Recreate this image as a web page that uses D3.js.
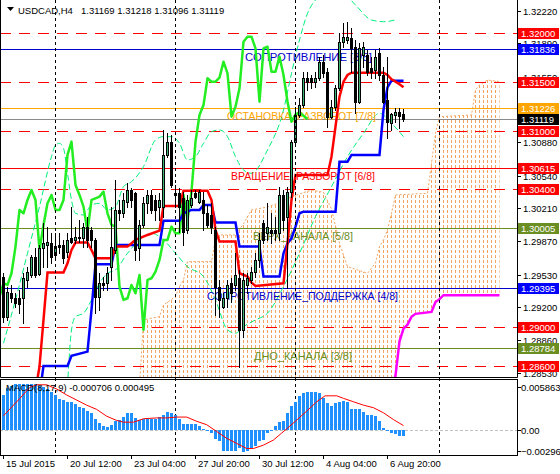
<!DOCTYPE html>
<html><head><meta charset="utf-8">
<script src="https://cdn.jsdelivr.net/npm/d3@7"></script>
<style>body{margin:0;background:#fff}svg{display:block}text{font-family:"Liberation Sans",Arial,sans-serif}</style>
</head><body><svg id="c" width="560" height="474"></svg>
<script>
// ---------------- data ----------------
const symbolName = "USDCAD,H4";
const lastOHLC = [1.31169, 1.31218, 1.31096, 1.31119];
const macdTitle = "MACD(8,17,9) -0.000706 0.000495";
const openP = [1.29510,1.29102,1.29347,1.29296,1.29289,1.29289,1.29476,1.29527,1.29714,1.29537,1.29799,1.29833,1.29850,1.29731,1.29833,1.29833,1.29765,1.29901,1.29884,1.29901,1.29901,1.30020,1.29986,1.29884,1.29306,1.29442,1.29442,1.29612,1.29782,1.30190,1.30156,1.30275,1.30394,1.30360,1.29799,1.30037,1.30258,1.30343,1.30292,1.30224,1.30224,1.30751,1.30887,1.30360,1.30360,1.30309,1.29986,1.30241,1.30360,1.30275,1.30292,1.30156,1.30139,1.29986,1.29408,1.29204,1.29289,1.29442,1.29425,1.29493,1.28966,1.29425,1.29476,1.29561,1.29680,1.30054,1.29952,1.29986,1.29986,1.29952,1.30343,1.30122,1.30377,1.30887,1.31159,1.31261,1.31533,1.31533,1.31499,1.31533,1.31703,1.31601,1.31142,1.31244,1.31431,1.31907,1.31924,1.31941,1.31856,1.31295,1.31771,1.31771,1.31635,1.31618,1.31788,1.31567,1.31312,1.31081,1.31159,1.31186,1.31169];
const highP = [1.29544,1.29408,1.29425,1.29340,1.29374,1.29544,1.29612,1.29731,1.29799,1.29833,1.30054,1.30020,1.29952,1.29952,1.29952,1.29884,1.29952,1.30224,1.30020,1.30088,1.30054,1.30122,1.30020,1.29901,1.29544,1.29510,1.29612,1.30224,1.30496,1.30292,1.30360,1.30462,1.30411,1.30377,1.30088,1.30326,1.30394,1.30394,1.30343,1.30360,1.31006,1.30972,1.30955,1.30445,1.30411,1.30377,1.30343,1.30394,1.30394,1.30394,1.30377,1.30241,1.30258,1.30020,1.29476,1.29340,1.29476,1.29493,1.29748,1.29578,1.29544,1.29544,1.29612,1.29748,1.29952,1.30088,1.30258,1.30156,1.30122,1.30428,1.30394,1.30428,1.30904,1.31244,1.31329,1.31601,1.31601,1.31567,1.31601,1.31754,1.31771,1.31635,1.31312,1.31465,1.31992,1.32094,1.32111,1.32043,1.31924,1.31890,1.31907,1.31822,1.31754,1.31822,1.31839,1.31652,1.31754,1.31176,1.31227,1.31227,1.31218];
const lowP = [1.29051,1.29068,1.29255,1.29204,1.29136,1.29034,1.29408,1.29510,1.29510,1.29527,1.29612,1.29612,1.29646,1.29680,1.29748,1.29646,1.29714,1.29850,1.29850,1.29867,1.29816,1.29816,1.29816,1.29136,1.29170,1.29374,1.29374,1.29476,1.29748,1.30088,1.30122,1.30224,1.30224,1.29680,1.29680,1.30020,1.30156,1.30156,1.30088,1.30088,1.30122,1.30734,1.30428,1.30224,1.29969,1.29833,1.29952,1.30224,1.30309,1.30258,1.29986,1.30020,1.29952,1.29119,1.29102,1.29187,1.29204,1.29255,1.29374,1.28592,1.28898,1.29340,1.29442,1.29510,1.29612,1.29850,1.29884,1.29850,1.29884,1.29884,1.29986,1.29391,1.30326,1.30870,1.31142,1.31244,1.31414,1.31431,1.31448,1.31516,1.31550,1.31040,1.31125,1.31210,1.31414,1.31856,1.31890,1.31601,1.31176,1.31278,1.31652,1.31567,1.31533,1.31533,1.31516,1.31278,1.30921,1.31006,1.31091,1.31023,1.31096];
const closeP = [1.29102,1.29357,1.29289,1.29238,1.29231,1.29493,1.29561,1.29714,1.29527,1.29799,1.29850,1.29867,1.29714,1.29823,1.29816,1.29697,1.29884,1.29867,1.29918,1.29918,1.30020,1.29884,1.29884,1.29306,1.29442,1.29425,1.29544,1.29816,1.30190,1.30156,1.30292,1.30394,1.30292,1.29782,1.30037,1.30258,1.30343,1.30190,1.30190,1.30292,1.30751,1.30887,1.30445,1.30343,1.30224,1.29969,1.30292,1.30309,1.30326,1.30377,1.30156,1.30037,1.30020,1.29408,1.29272,1.29289,1.29425,1.29340,1.29527,1.28966,1.29476,1.29493,1.29561,1.29680,1.29884,1.29884,1.30020,1.29952,1.29952,1.30343,1.30088,1.30377,1.30887,1.31159,1.31261,1.31533,1.31499,1.31499,1.31540,1.31703,1.31584,1.31142,1.31244,1.31431,1.31907,1.31958,1.31958,1.31839,1.31295,1.31839,1.31856,1.31601,1.31601,1.31754,1.31567,1.31295,1.31091,1.31166,1.31186,1.31152,1.31119];
const macdMain = [0.00412,0.00491,0.00518,0.00537,0.00542,0.00542,0.00542,0.00537,0.00535,0.00518,0.00501,0.00475,0.0045,0.00412,0.00361,0.00348,0.00331,0.00323,0.00306,0.00272,0.00255,0.00221,0.00195,0.00127,0.00076,0.00042,0.00034,0.00051,0.00102,0.00119,0.00153,0.00195,0.00195,0.00136,0.00119,0.00127,0.00127,0.00127,0.00127,0.00153,0.00178,0.00204,0.00195,0.00178,0.00127,0.00068,0.00068,0.00068,0.00068,0.00042,0.00008,-0.00008,-0.00042,-0.0011,-0.00136,-0.00246,-0.00246,-0.00246,-0.00246,-0.00212,-0.00263,-0.00246,-0.00212,-0.00187,-0.00136,-0.00119,-0.00034,0.0,0.00042,0.00093,0.00102,0.00195,0.0028,0.00331,0.00399,0.00433,0.00441,0.00441,0.00441,0.00433,0.00374,0.00314,0.0028,0.00314,0.00331,0.0034,0.00331,0.00246,0.00246,0.00246,0.00212,0.0017,0.0017,0.00161,0.00102,0.00017,-0.00008,-0.00034,-0.00051,-0.00068,-0.000706];
const macdSignal = [[0,0.00165],[1.8,0.00255],[4.1,0.0037],[6.6,0.0050],[8.3,0.0053],[10.8,0.0053],[13.3,0.0048],[15.8,0.0041],[18.3,0.0035],[20.8,0.0029],[23.3,0.0024],[25.8,0.0016],[28.3,0.0011],[30,0.0009],[32.5,0.0009],[35,0.0013],[38.3,0.0014],[40.8,0.0014],[43.3,0.0015],[45.8,0.0015],[48.3,0.0010],[50.8,0.0006],[53.3,-0.0002],[55.8,-0.0010],[58.3,-0.0016],[60.8,-0.0022],[62.5,-0.0022],[65,-0.0018],[67.5,-0.0012],[69.5,-0.0004],[71,0.0002],[72.9,0.00098],[75.8,0.0022],[78.3,0.0033],[80.4,0.0040],[83.3,0.0040],[85,0.0037],[87.5,0.0033],[90,0.0029],[92.5,0.0026],[95,0.0020],[97.5,0.0012],[100,0.000495]];
const tenkan = [[8,1.2835],[9,1.28592],[10,1.29068],[11,1.29551],[15,1.29551],[16,1.29646],[17,1.29782],[18,1.29857],[21,1.29857],[22,1.29782],[23,1.29697],[27,1.29697],[28,1.29816],[31,1.29816],[33,1.29884],[36,1.29935],[39,1.29979],[40,1.30231],[44,1.30231],[45,1.30387],[51,1.30387],[52,1.30292],[53,1.29986],[54,1.29867],[58,1.29867],[59,1.29544],[61,1.29510],[62,1.29449],[63,1.29415],[70,1.29442],[71,1.29850],[72,1.30292],[73,1.30547],[81,1.30547],[82,1.30734],[83,1.31040],[84,1.31346],[85,1.31499],[86,1.31567],[87,1.31591],[95,1.31591],[96,1.31567],[97,1.31523],[98,1.31499],[99,1.31472],[100,1.31441]];
const kijun = [[9,1.2830],[10,1.28599],[16,1.28599],[17,1.28701],[21,1.28745],[22,1.29170],[23,1.29636],[27,1.29636],[28,1.29833],[39,1.29833],[40,1.30081],[44,1.30081],[45,1.30156],[47,1.30190],[49,1.30190],[50,1.30241],[52,1.30241],[53,1.30061],[58,1.30061],[59,1.29816],[64,1.29816],[65,1.29510],[69,1.29510],[70,1.29748],[71,1.29850],[72,1.29901],[73,1.30020],[74,1.30156],[75,1.30173],[83,1.30173],[84,1.30683],[86,1.30683],[87,1.30751],[94,1.30751],[95,1.31210],[96,1.31441],[97,1.31509],[100,1.31509]];
const senkouA = [[34,1.2840],[35,1.29068],[39,1.29102],[40,1.29221],[43,1.29306],[44,1.29408],[45,1.29476],[46,1.29663],[52,1.29663],[53,1.29884],[54,1.29935],[58,1.29935],[60,1.3005],[62,1.30190],[66,1.3022],[70,1.3028],[72,1.30326],[77,1.30394],[80,1.3037],[82,1.3020],[84,1.2985],[86,1.29612],[91,1.29544],[93,1.2965],[94,1.29816],[95,1.29884],[96,1.29986],[97,1.30156],[98,1.30343],[106,1.30360],[107,1.30666],[108,1.30972],[109,1.31142],[117,1.31159],[118,1.31414],[119,1.31465],[121,1.31516],[124,1.31499]];
const senkouB = [[34,1.2800],[96,1.2800],[97,1.2830],[98,1.2850],[99,1.2885],[100,1.2898],[101,1.2902],[102,1.2910],[103,1.2913],[107,1.2915],[108,1.2925],[109,1.2928],[110,1.2932],[124,1.2932]];
const chikouShift = 24;
const bandUpper = [[0,1.28830],[3,1.29272],[6,1.29748],[9,1.30224],[12,1.30734],[13,1.30853],[14,1.30870],[15,1.30819],[16,1.30564],[17,1.30292],[18,1.30156],[20,1.30139],[22,1.30241],[24,1.30258],[26,1.30190],[28,1.30224],[30,1.30428],[32,1.30479],[35,1.30632],[38,1.30904],[40,1.30938],[42,1.30938],[44,1.30870],[46,1.30700],[48,1.30734],[50,1.30870],[52,1.30989],[54,1.31006],[56,1.30938],[58,1.30734],[60,1.30598],[62,1.30564],[66,1.30802],[70,1.31210],[72,1.31584],[74,1.31924],[76,1.32196],[78,1.32332],[80,1.32400],[84,1.32434],[88,1.32281],[92,1.32128],[95,1.32111],[98,1.32128]];
const bandLower = [[16,1.28388],[17,1.28966],[18,1.29102],[20,1.29136],[22,1.29272],[24,1.29442],[26,1.29544],[28,1.29578],[31,1.29748],[34,1.29884],[37,1.29952],[40,1.29884],[43,1.29748],[46,1.29612],[50,1.29510],[53,1.29272],[56,1.28966],[58,1.28932],[60,1.29000],[63,1.29068],[66,1.29136],[70,1.29408],[74,1.29748],[78,1.30122],[82,1.30428],[86,1.30734],[90,1.30972],[94,1.31176],[97,1.31074],[100,1.30938]];
const levelValues = [1.32000,1.31836,1.31500,1.31226,1.31119,1.31000,1.30615,1.30400,1.30005,1.29395,1.29000,1.28784,1.28600];
const levelKind   = ["mm","r8","mm","r7","bid","mm","r6","mm","r5","r4","mm","r3","mm"];
const levelNames  = {r8:"СОПРОТИВЛЕНИЕ [8/8]",r7:"ОСТАНОВКА_РАЗВОРОТ [7/8]",r6:"ВРАЩЕНИЕ_РАЗВОРОТ [6/8]",r5:"ВЕРХ_КАНАЛА [5/8]",r4:"СОПРОТИВЛЕНИЕ_ПОДДЕРЖКА [4/8]",r3:"ДНО_КАНАЛА [3/8]"};
const priceTicks = [1.32220,1.31890,1.31550,1.31220,1.30880,1.30540,1.30210,1.29870,1.29530,1.29200,1.28860,1.28530];
const macdTicks = [0.005863,0,-0.002966];
const timeBars = [0,16,32,48,64,80,96];
const timeText = ["15 Jul 2015","20 Jul 12:00","23 Jul 04:00","27 Jul 20:00","30 Jul 12:00","4 Aug 04:00","6 Aug 20:00"];
const separatorBars = [13,43,73,109];

// ---------------- styles ----------------
const RIGHT = 517, MAIN_B = 377, SUB_T = 379, SUB_B = 455;
const kindStyle = {
  mm:{c:"#ff0000",dash:"11,8"}, r8:{c:"#0000cd",box:"#0000ff"}, r7:{c:"#ffa500"}, bid:{c:"#8a8a8a",box:"#000000"},
  r6:{c:"#ff0000"}, r5:{c:"#6b8e23"}, r4:{c:"#0000cd",box:"#0000ff"}, r3:{c:"#6b8e23"}
};
const textPos = {r8:[245,127],r7:[227,149],r6:[231,144],r5:[253,100],r4:[207,191],r3:[254,98]};

const svg = d3.select("#c");
const x = d3.scaleLinear().domain([0,100]).range([3.5,403.5]);
const y = d3.scaleLinear().domain([1.28530,1.32220]).range([372.66,11]);
const ym = d3.scaleLinear().domain([-0.002966,0.005863]).range([455,380]);
const cy = v => Math.round(y(v)) + 0.5;

const defs = svg.append("defs");
defs.append("clipPath").attr("id","mainClip").append("rect").attr("x",1).attr("y",0).attr("width",RIGHT-1).attr("height",MAIN_B);
defs.append("clipPath").attr("id","subClip").append("rect").attr("x",1).attr("y",SUB_T+1).attr("width",RIGHT-1).attr("height",SUB_B-SUB_T-1);
const pat = defs.append("pattern").attr("id","cloudPat").attr("patternUnits","userSpaceOnUse").attr("width",4).attr("height",5);
pat.append("rect").attr("x",3).attr("y",0).attr("width",1).attr("height",3).attr("fill","#f4a460");

const main = svg.append("g").attr("clip-path","url(#mainClip)");

// cloud
const cloudPts = senkouA.concat(senkouB.slice().reverse());
main.append("path").attr("d", d3.line().x(d=>x(d[0])).y(d=>y(d[1]))(cloudPts) + "Z").attr("fill","url(#cloudPat)");
main.append("path").attr("d", d3.line().x(d=>x(d[0])).y(d=>y(d[1]))(senkouA))
  .attr("fill","none").attr("stroke","#f4a460").attr("stroke-width",1).attr("stroke-dasharray","2,2");

// horizontal levels
levelValues.forEach((v,k)=>{
  const s = kindStyle[levelKind[k]];
  main.append("line").attr("x1",0).attr("x2",RIGHT).attr("y1",cy(v)).attr("y2",cy(v))
    .attr("stroke",s.c).attr("stroke-width",1).attr("stroke-dasharray",s.dash||null);
});

// bands
[bandUpper,bandLower].forEach(b=>{
  main.append("path").attr("d", d3.line().x(d=>x(d[0])).y(d=>y(d[1])).curve(d3.curveMonotoneX)(b))
    .attr("fill","none").attr("stroke","#00f07a").attr("stroke-width",1).attr("stroke-dasharray","6,3");
});

// separators
separatorBars.forEach(b=>{
  svg.append("line").attr("x1",x(b)).attr("x2",x(b)).attr("y1",0).attr("y2",SUB_B)
    .attr("stroke","#000").attr("stroke-width",1).attr("stroke-dasharray","3,3");
});

// level texts
levelValues.forEach((v,k)=>{
  const kd = levelKind[k]; if(!levelNames[kd]) return;
  const s = kindStyle[kd], p = textPos[kd];
  main.append("text").attr("x",p[0]).attr("y",Math.round(y(v))+12).attr("font-size",10.5)
    .attr("fill",s.c).attr("textLength",p[1]).attr("lengthAdjust","spacingAndGlyphs").text(levelNames[kd]);
});

// chikou
const chikou = closeP.map((c,i)=>[i-chikouShift,c]);
const lineGen = d3.line().x(d=>x(d[0])).y(d=>y(d[1]));
main.append("path").attr("d",lineGen(chikou)).attr("fill","none").attr("stroke","#22ee22").attr("stroke-width",2.5).attr("stroke-linejoin","round");
main.append("path").attr("d",lineGen(senkouB)).attr("fill","none").attr("stroke","#ff00ff").attr("stroke-width",2.5);
main.append("path").attr("d",lineGen(kijun)).attr("fill","none").attr("stroke","#0000ff").attr("stroke-width",2.5);
main.append("path").attr("d",lineGen(tenkan)).attr("fill","none").attr("stroke","#ff0000").attr("stroke-width",2.5);

// candles
const candles = main.append("g");
closeP.forEach((c,i)=>{
  const o=openP[i], h=highP[i], l=lowP[i], cx=x(i);
  candles.append("line").attr("x1",cx).attr("x2",cx).attr("y1",Math.round(y(h))).attr("y2",Math.round(y(l))+1).attr("stroke","#000");
  const top=Math.round(y(Math.max(o,c))), bot=Math.round(y(Math.min(o,c)));
  if(c>=o){
    candles.append("rect").attr("x",cx-1).attr("y",top+0.5).attr("width",2).attr("height",Math.max(bot-top,1))
      .attr("fill","#3cb371").attr("stroke","#000").attr("stroke-width",1);
  } else {
    candles.append("rect").attr("x",cx-1.5).attr("y",top).attr("width",3).attr("height",Math.max(bot-top+1,1)).attr("fill","#000");
  }
});

// MACD
const sub = svg.append("g").attr("clip-path","url(#subClip)");
const z0 = ym(0);
sub.append("line").attr("x1",0).attr("x2",RIGHT).attr("y1",Math.round(z0)+0.5).attr("y2",Math.round(z0)+0.5)
  .attr("stroke","#c0c0c0").attr("stroke-dasharray","3,2");
macdMain.forEach((v,i)=>{
  const a=Math.round(ym(v)), b=Math.round(z0);
  sub.append("rect").attr("x",x(i)-1.5).attr("width",3).attr("y",Math.min(a,b)).attr("height",Math.max(Math.abs(a-b),1)).attr("fill","#1e90ff");
});
sub.append("path").attr("d",d3.line().x(d=>x(d[0])).y(d=>ym(d[1]))(macdSignal)).attr("fill","none").attr("stroke","#ff0000").attr("stroke-width",1);

// frames
svg.append("path").attr("d",`M0.5,0 V${MAIN_B+0.5} H${RIGHT+0.5} V0`).attr("fill","none").attr("stroke","#000");
svg.append("rect").attr("x",0.5).attr("y",SUB_T+0.5).attr("width",RIGHT).attr("height",SUB_B-SUB_T).attr("fill","none").attr("stroke","#000");

// titles
svg.append("path").attr("d","M7,7 L14,7 L10.5,11 Z").attr("fill","#000");
svg.append("text").attr("x",18).attr("y",14).attr("font-size",9.5).attr("fill","#000").text(symbolName);
svg.append("text").attr("x",81).attr("y",14).attr("font-size",9.5).attr("fill","#000").text(lastOHLC.map(d3.format(".5f")).join(" "));
svg.append("text").attr("x",6).attr("y",391).attr("font-size",9.5).attr("fill","#000").text(macdTitle);

// price axis ticks
priceTicks.forEach(v=>{
  const yy=Math.round(y(v))+0.5;
  svg.append("line").attr("x1",RIGHT).attr("x2",RIGHT+4).attr("y1",yy).attr("y2",yy).attr("stroke","#000");
  svg.append("text").attr("x",523).attr("y",yy+3.5).attr("font-size",9.5).text(d3.format(".5f")(v));
});
levelValues.forEach((v,k)=>{
  const s=kindStyle[levelKind[k]]; const yy=Math.round(y(v));
  svg.append("rect").attr("x",518).attr("y",yy-5).attr("width",41).attr("height",11).attr("fill",s.box||s.c);
  svg.append("text").attr("x",521).attr("y",yy+4).attr("font-size",9.5).attr("fill","#fff").text(d3.format(".5f")(v));
});
macdTicks.forEach(v=>{
  const ty = v===0 ? Math.round(z0) : (v>0 ? 387 : 451);
  svg.append("line").attr("x1",RIGHT).attr("x2",RIGHT+4).attr("y1",ty+0.5).attr("y2",ty+0.5).attr("stroke","#000");
  svg.append("text").attr("x",521).attr("y",ty+4).attr("font-size",9.5).text(v===0?"0.00":d3.format(".6f")(v));
});
timeBars.forEach((b,k)=>{
  const xx=Math.round(x(b))-0.5;
  svg.append("line").attr("x1",xx).attr("x2",xx).attr("y1",SUB_B).attr("y2",SUB_B+4).attr("stroke","#000");
  svg.append("text").attr("x",xx+2.5).attr("y",467).attr("font-size",9.5).text(timeText[k]);
});
</script></body></html>
